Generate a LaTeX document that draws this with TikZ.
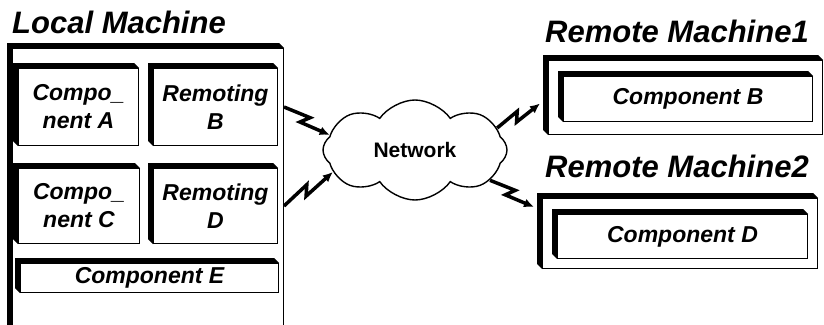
\documentclass[tikz,border=0pt]{standalone}
\usepackage{fontspec}
\setmainfont{Liberation Sans}
\usetikzlibrary{positioning}
\usetikzlibrary{calc}
\usetikzlibrary{shapes.symbols}
\usetikzlibrary{arrows.meta}

% raised edge on the left and top of a box
\newcommand{\bevel}[2][5pt]{%
  \fill (#2.south west) -- ++(-#1,#1) -- ([shift={(-#1,#1)}]#2.north west)
    -- ([shift={(-#1,#1)}]#2.north east) -- (#2.north east) -- (#2.north west) -- cycle;}

\tikzset{
  box/.style={draw, line width=1pt, fill=white, inner sep=0pt, align=center, anchor=north west,
    font=\fontsize{23}{28}\selectfont\bfseries\itshape},
  title/.style={anchor=base west, inner sep=0pt, font=\fontsize{31}{36}\selectfont\bfseries\itshape},
  bolt/.style={line width=3.5pt, -{Latex[length=10pt,width=9pt]},
    to path={-- ($(\tikztostart)!.52!(\tikztotarget)!4.5pt!90:(\tikztotarget)$)
      -- ($(\tikztostart)!.4!(\tikztotarget)!4.5pt!-90:(\tikztotarget)$) -- (\tikztotarget)}}
}

\begin{document}
\begin{tikzpicture}[x=1pt,y=-1pt]
\useasboundingbox (0,0) rectangle (824,324);
\clip (0,0) rectangle (824,324);

% local machine
\node[title] (lmt) at (12,33) {Local Machine};
\node[box, minimum width=271pt, minimum height=300pt] (local) at (12,48) {};
\bevel{local}

\node[box, minimum width=120pt, minimum height=77pt] (ca) at (18,68) {Compo\_\\nent A};
\node[box, minimum width=124pt, minimum height=77pt] (rb) at (153,68) {Remoting\\B};
\node[box, minimum width=121pt, minimum height=75pt] (cc) at (18,168) {Compo\_\\nent C};
\node[box, minimum width=124pt, minimum height=75pt] (rd) at (153,168) {Remoting\\D};
\node[box, minimum width=258pt, minimum height=29pt] (ce) at (20,263) {Component E};
\bevel{ca}
\bevel{rb}
\bevel{cc}
\bevel{rd}
\bevel{ce}

% network
\node[cloud, draw, line width=1.4pt, cloud puffs=8, cloud puff arc=110, aspect=1.9, minimum width=184pt,
  minimum height=100pt, inner sep=0pt, font=\fontsize{21}{25}\selectfont\bfseries] (net) at (415,150) {Network};

% remote machines
\node[title] (r1t) at (545,42) {Remote Machine1};
\node[box, minimum width=274pt, minimum height=74pt] (r1) at (548,60) {};
\node[box, minimum width=249pt, minimum height=45pt] (cb) at (563,76) {Component B};
\bevel{r1}
\bevel{cb}

\node[title] (r2t) at (545,177) {Remote Machine2};
\node[box, minimum width=275pt, minimum height=70pt] (r2) at (542,198) {};
\node[box, minimum width=250pt, minimum height=44pt] (cd) at (557,214) {Component D};
\bevel{r2}
\bevel{cd}

% links
\draw[bolt] (rb.east -| local.east) to (net.170);
\draw[bolt] (rd.east -| local.east) to (net.195);
\draw[bolt] (net.15) to ([xshift=-8pt,yshift=-6pt]r1.west);
\draw[bolt] (net.-22) to ([xshift=-8pt,yshift=-9pt]r2.north west);

\end{tikzpicture}
\end{document}
